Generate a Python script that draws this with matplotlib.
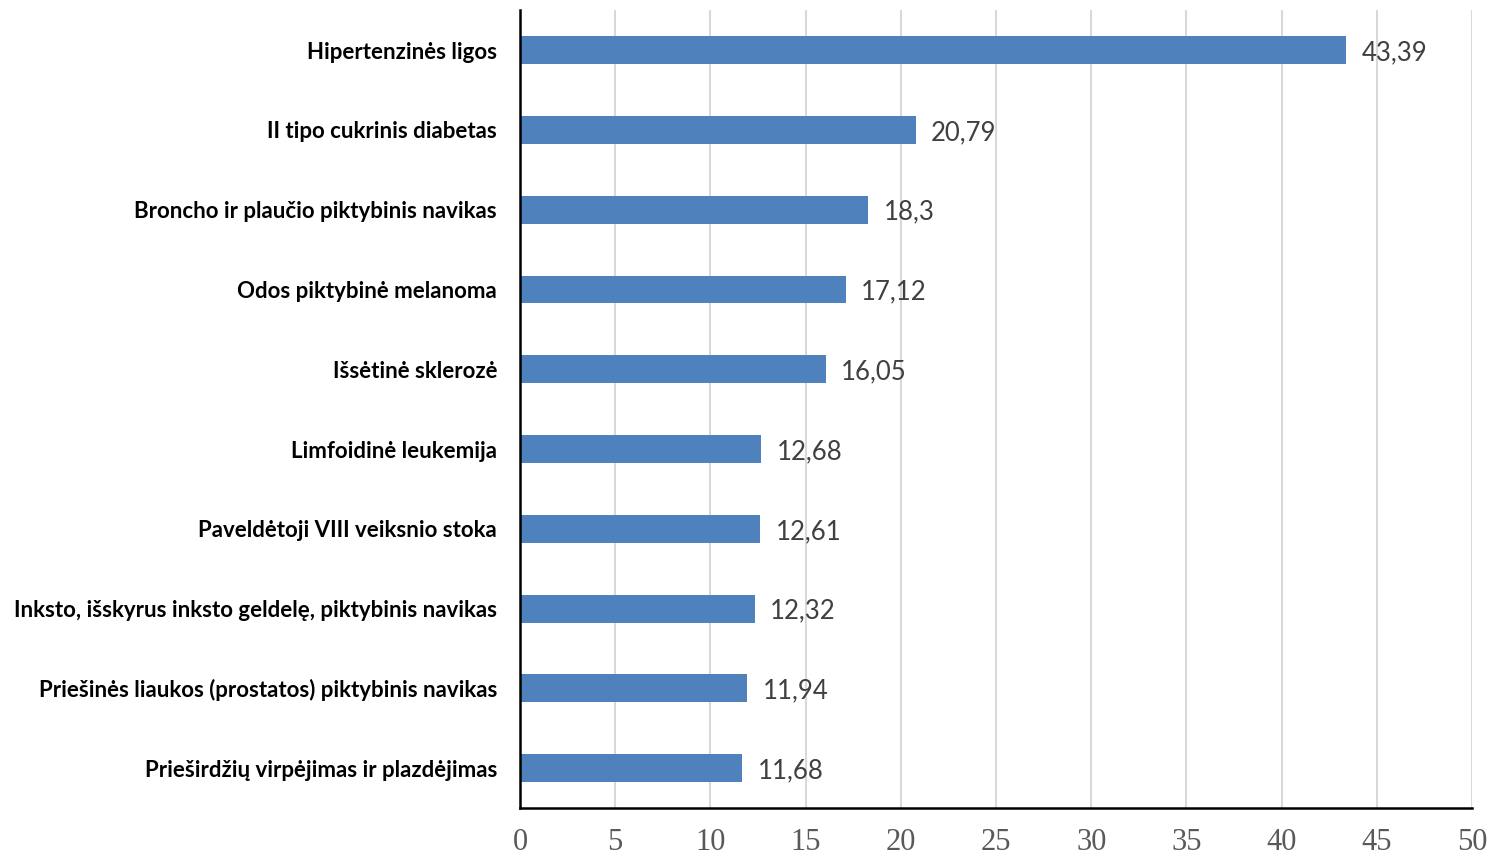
import matplotlib
matplotlib.use("Agg")
import matplotlib.pyplot as plt

# categories and values, top to bottom as in the chart
labels = [
    "Hipertenzinės ligos",
    "II tipo cukrinis diabetas",
    "Broncho ir plaučio piktybinis navikas",
    "Odos piktybinė melanoma",
    "Išsėtinė sklerozė",
    "Limfoidinė leukemija",
    "Paveldėtoji VIII veiksnio stoka",
    "Inksto, išskyrus inksto geldelę, piktybinis navikas",
    "Priešinės liaukos (prostatos) piktybinis navikas",
    "Prieširdžių virpėjimas ir plazdėjimas",
]
values = [43.39, 20.79, 18.3, 17.12, 16.05, 12.68, 12.61, 12.32, 11.94, 11.68]
value_text = ["43,39", "20,79", "18,3", "17,12", "16,05", "12,68", "12,61", "12,32", "11,94", "11,68"]
xticks = [0, 5, 10, 15, 20, 25, 30, 35, 40, 45, 50]

fig = plt.figure(figsize=(14.9, 8.56), dpi=100)
ax = fig.add_axes([0.349, 0.056, 0.639, 0.932])

pos = list(range(len(labels)))
ax.barh(pos, values, height=0.35, color="#4F81BD", zorder=3)

for p, v, t in zip(pos, values, value_text):
    ax.text(v + 0.8, p, t, va="center_baseline", ha="left", fontsize=18.5,
            family="Lato", color="#404040")

ax.set_ylim(len(labels) - 0.5, -0.5)
ax.set_xlim(0, 50)
ax.set_yticks(pos)
ax.set_yticklabels(labels, fontsize=16, family="Lato", fontweight="bold")
ax.set_xticks(xticks)
ax.set_xticklabels([str(x) for x in xticks], fontsize=22,
                   family="Liberation Serif", color="#595959")
ax.tick_params(axis="both", length=0)
ax.tick_params(axis="y", pad=16.5)
ax.tick_params(axis="x", pad=14)

ax.grid(axis="x", color="#D9D9D9", linewidth=1.5, zorder=0)
for s in ["top", "right"]:
    ax.spines[s].set_visible(False)
ax.spines["left"].set_linewidth(1.8)
ax.spines["bottom"].set_linewidth(1.8)
ax.spines["left"].set_zorder(4)

fig.savefig("out.png", dpi=100)
